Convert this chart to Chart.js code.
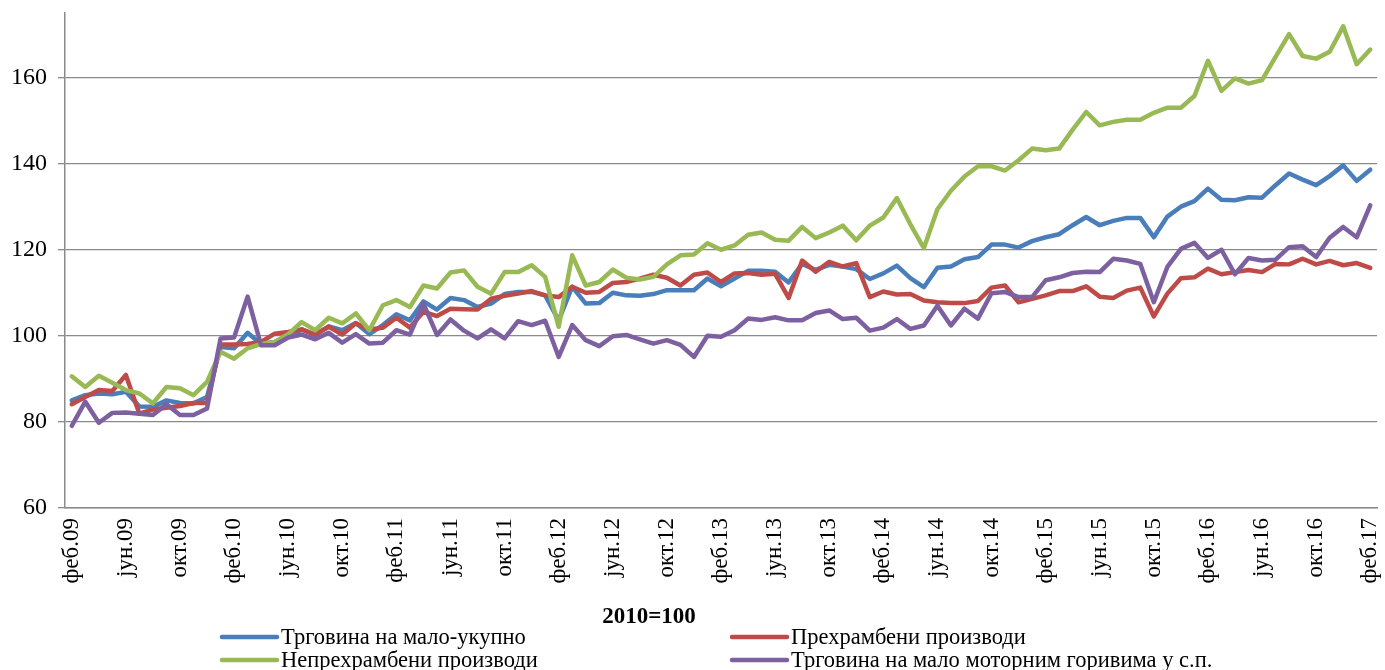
<!DOCTYPE html>
<html>
<head>
<meta charset="utf-8">
<script src="https://cdn.jsdelivr.net/npm/chart.js@4"></script>
<style>
html,body{margin:0;padding:0;background:#fff;}
#wrap{width:1385px;height:670px;position:relative;}
</style>
</head>
<body>
<div id="wrap"><canvas id="c" width="1385" height="670"></canvas></div>
<script>
const months = ["јан","феб","мар","апр","мај","јун","јул","авг","сеп","окт","нов","дец"];
const years = ["09","10","11","12","13","14","15","16","17"];
const categories = [];
for (let y = 0; y < years.length; y++) {
  for (let m = 0; m < 12; m++) {
    if (y === 0 && m < 1) continue;
    if (y === years.length - 1 && m > 1) continue;
    categories.push(months[m] + "." + years[y]);
  }
}
const shownTickLabels = ["феб","јун","окт"];

const seriesNames = [
  "Трговина на мало-укупно",
  "Прехрамбени производи",
  "Непрехрамбени производи",
  "Трговина на мало моторним горивима у с.п."
];

const totalRetail = [
85.0,86.2,86.6,86.4,87.0,83.6,83.5,85.0,84.4,84.3,85.8,97.4,97.1,100.7,98.1,98.6,
99.8,101.5,100.2,102.2,101.3,103.0,100.4,102.5,105.0,103.6,108.0,106.1,108.8,108.3,106.7,107.5,
109.7,110.2,110.2,109.4,103.6,111.4,107.5,107.6,110.0,109.4,109.3,109.7,110.6,110.6,110.6,113.3,
111.5,113.3,115.1,115.1,114.9,112.4,116.7,115.3,116.5,116.1,115.5,113.2,114.5,116.3,113.4,111.3,
115.8,116.1,117.8,118.3,121.2,121.2,120.5,122.0,122.9,123.6,125.7,127.6,125.7,126.7,127.4,127.4,
122.9,127.7,130.0,131.3,134.2,131.6,131.5,132.2,132.1,135.0,137.7,136.3,135.0,137.1,139.6,136.0,
138.6];

const foodProducts = [
84.1,85.8,87.4,87.2,90.9,81.9,82.9,83.3,83.7,84.4,84.4,98.0,98.0,98.1,98.6,100.5,
100.9,101.5,100.3,102.1,100.3,102.9,101.5,101.9,104.2,101.9,105.6,104.6,106.3,106.2,106.1,108.6,
109.3,109.8,110.4,109.4,109.0,111.4,110.0,110.2,112.3,112.5,113.3,114.2,113.5,111.7,114.2,114.7,
112.5,114.5,114.6,114.2,114.4,108.8,117.5,114.9,117.2,116.1,116.9,109.0,110.3,109.6,109.7,108.2,
107.8,107.6,107.6,108.1,111.2,111.7,107.8,108.6,109.4,110.4,110.4,111.5,109.1,108.8,110.5,111.2,
104.5,109.8,113.4,113.6,115.6,114.3,114.8,115.3,114.8,116.7,116.6,117.9,116.6,117.4,116.4,116.9,
115.8];

const nonFoodProducts = [
90.6,88.1,90.7,89.1,87.4,86.6,84.3,88.1,87.8,86.2,89.3,96.3,94.7,97.1,98.1,98.6,
100.4,103.2,101.3,104.2,102.9,105.2,101.3,107.1,108.3,106.7,111.7,111.0,114.7,115.2,111.4,109.8,
114.8,114.8,116.4,113.7,102.1,118.7,111.7,112.5,115.4,113.5,113.1,113.7,116.6,118.7,118.9,121.5,
120.0,121.0,123.5,124.0,122.3,122.1,125.3,122.7,124.0,125.6,122.2,125.6,127.5,132.0,125.9,120.4,
129.4,133.7,137.0,139.4,139.4,138.4,140.8,143.5,143.1,143.5,147.9,152.0,148.9,149.7,150.2,150.2,
151.8,153.0,153.0,155.7,163.9,156.9,159.8,158.6,159.4,164.8,170.1,165.0,164.4,166.0,171.9,163.1,
166.5];

const motorFuel = [
79.1,84.7,79.8,82.1,82.2,81.9,81.6,84.1,81.6,81.6,83.1,99.4,99.6,109.1,97.8,97.8,
99.6,100.3,99.2,100.7,98.4,100.4,98.2,98.4,101.3,100.3,107.5,100.2,103.8,101.2,99.4,101.5,
99.4,103.4,102.5,103.5,95.1,102.5,99.0,97.6,99.9,100.2,99.2,98.2,99.0,97.9,95.1,100.0,
99.8,101.3,104.0,103.7,104.3,103.6,103.6,105.3,105.9,103.9,104.2,101.2,101.9,103.9,101.6,102.4,
107.0,102.4,106.3,104.0,109.9,110.2,109.0,109.0,112.9,113.6,114.6,114.9,114.8,117.9,117.5,116.7,
107.8,116.0,120.2,121.6,118.1,120.0,114.3,118.1,117.5,117.7,120.6,120.8,118.3,122.8,125.3,122.9,
130.3];

const yTickValues = [60, 80, 100, 120, 140, 160];
const axisTitle = "2010=100";

const colors = ["#4A7EBB", "#BE4B48", "#98B954", "#7D60A0"];
const serif = "'Liberation Serif', 'DejaVu Serif', serif";
const gridColor = "#8a8a8a";

const bottomPlugin = {
  id: 'bottomText',
  afterDraw(chart) {
    const ctx = chart.ctx;
    ctx.save();
    ctx.fillStyle = '#000';
    ctx.font = "bold 23px " + serif;
    ctx.textAlign = 'center';
    ctx.textBaseline = 'middle';
    ctx.fillText(axisTitle, 649, 617);
    ctx.font = "22.5px " + serif;
    ctx.textAlign = 'left';
    const items = [
      {i:0, x:222, y:637}, {i:1, x:732, y:637},
      {i:2, x:222, y:660}, {i:3, x:732, y:660}
    ];
    items.forEach(it => {
      ctx.strokeStyle = colors[it.i];
      ctx.lineWidth = 4.5;
      ctx.lineCap = 'round';
      ctx.beginPath();
      ctx.moveTo(it.x, it.y);
      ctx.lineTo(it.x + 55, it.y);
      ctx.stroke();
      ctx.fillText(seriesNames[it.i], it.x + 59, it.y + 1);
    });
    ctx.restore();
  }
};

const datasetsData = [totalRetail, foodProducts, nonFoodProducts, motorFuel];
new Chart(document.getElementById('c'), {
  type: 'line',
  data: {
    labels: categories,
    datasets: datasetsData.map((d, k) => ({
      label: seriesNames[k],
      data: d,
      borderColor: colors[k],
      backgroundColor: colors[k],
      borderWidth: 4.5,
      pointRadius: 0,
      tension: 0,
      fill: false,
      order: 3 - k,
      borderCapStyle: 'round',
      borderJoinStyle: 'round'
    }))
  },
  options: {
    responsive: false,
    animation: false,
    devicePixelRatio: 1,
    layout: { padding: { top: 13, right: 8, left: 0, bottom: 0 } },
    plugins: { legend: { display: false }, tooltip: { enabled: false }, title: { display: false } },
    scales: {
      x: {
        offset: true,
        grid: { display: false, drawTicks: false },
        border: { display: true, color: gridColor, width: 1.5 },
        ticks: {
          autoSkip: false,
          maxRotation: 90,
          minRotation: 90,
          padding: 10,
          color: '#000',
          font: { family: serif, size: 23 },
          callback: function(v, i) {
            const lab = categories[i];
            return shownTickLabels.includes(lab.split('.')[0]) && (i % 4 === 0) ? lab : '';
          }
        },
        afterFit(scale) {
          scale.height = 162;
          scale.paddingLeft = 0;
          scale.paddingRight = 0;
        }
      },
      y: {
        min: 60,
        max: 175,
        afterBuildTicks(scale) { scale.ticks = yTickValues.map(v => ({ value: v })); },
        grid: { color: gridColor, lineWidth: 1.3, tickLength: 7, drawTicks: true },
        border: { display: true, color: gridColor, width: 1.5 },
        ticks: {
          padding: 11,
          color: '#000',
          font: { family: serif, size: 24 }
        },
        afterFit(scale) {
          scale.width = 65;
          scale.paddingTop = 0;
          scale.paddingBottom = 0;
        }
      }
    }
  },
  plugins: [bottomPlugin]
});
</script>
</body>
</html>
